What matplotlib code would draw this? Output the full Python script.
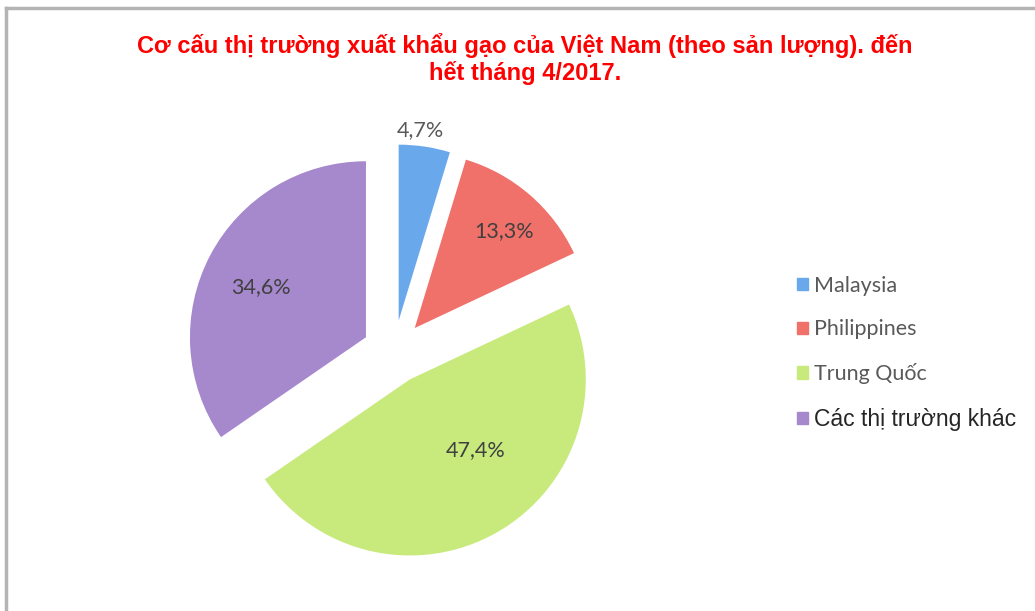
import numpy as np
import matplotlib
matplotlib.use('Agg')
import matplotlib.pyplot as plt
from matplotlib.patches import Rectangle
from matplotlib.lines import Line2D

labels = ['Malaysia', 'Philippines', 'Trung Quốc', 'Các thị trường khác']
shares = [4.7, 13.3, 47.4, 34.6]
colors = ['#6AA8EC', '#F0706A', '#C8EA7C', '#A688CC']
title = 'Cơ cấu thị trường xuất khẩu gạo của Việt Nam (theo sản lượng). đến\nhết tháng 4/2017.'

W, H = 1035, 611
fig = plt.figure(figsize=(W / 100, H / 100), dpi=100)

# pie axes: square, centred on the pie centre
cx, cy, half = 394, 352, 250
ax = fig.add_axes([(cx - half) / W, (H - cy - half) / H, 2 * half / W, 2 * half / H])
lim = half / 176

expl = 0.18
wedges, _ = ax.pie(shares, colors=colors, startangle=90, counterclock=False,
                   explode=[expl] * 4, radius=1, frame=True,
                   wedgeprops=dict(linewidth=0))
ax.set_xlim(-lim, lim)
ax.set_ylim(-lim, lim)
ax.set_aspect('equal')
ax.axis('off')

# label placement: distance from wedge apex (fraction of radius), angle tweak (deg)
lab_r = [1.09, 0.75, 0.55, 0.66]
lab_da = [2, -2, 13, 2]
lab_col = ['#595959', '#404040', '#404040', '#404040']
for w, v, r, da, c in zip(wedges, shares, lab_r, lab_da, lab_col):
    mid = np.deg2rad((w.theta1 + w.theta2) / 2)
    ex, ey = expl * np.cos(mid), expl * np.sin(mid)
    a = mid + np.deg2rad(da)
    ax.text(ex + r * np.cos(a), ey + r * np.sin(a), f'{v:.1f}'.replace('.', ',') + '%',
            ha='center', va='center', fontsize=15.5, family='Lato', color=c)

fig.text(525 / W, 1 - 59 / H, title, ha='center', va='center', color='#FF0000',
         fontsize=17, fontweight='bold', family='Liberation Sans', linespacing=1.15)

handles = [Rectangle((0, 0), 1, 1, color=c) for c in colors]
leg = fig.legend(handles, labels, loc='upper left', bbox_to_anchor=(786 / W, 1 - 265 / H),
                 frameon=False, prop={'family': 'Lato', 'size': 15.5},
                 handlelength=0.5, handleheight=0.5, handletextpad=0.3,
                 labelspacing=1.1, borderpad=0)
for i, t in enumerate(leg.get_texts()):
    if i == 3:
        t.set_fontfamily('Liberation Sans')
        t.set_fontsize(16.5)
        t.set_color('#262626')
    else:
        t.set_color('#595959')

# chart border (top and left only visible)
fig.add_artist(Line2D([6 / W, 1], [1 - 8 / H, 1 - 8 / H], color='#B4B4B4', lw=2.5))
fig.add_artist(Line2D([6 / W, 6 / W], [0, 1 - 8 / H], color='#B4B4B4', lw=2.5))

fig.savefig('out.png', dpi=100, facecolor='white')
